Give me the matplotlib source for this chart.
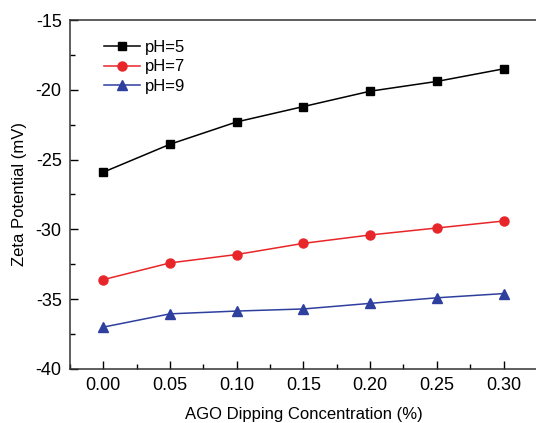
import matplotlib
matplotlib.use('Agg')
from matplotlib import pyplot as plt
from matplotlib.ticker import MultipleLocator

plt.rcParams['font.family'] = ['Liberation Sans', 'DejaVu Sans']

conc = [0.00, 0.05, 0.10, 0.15, 0.20, 0.25, 0.30]
ph5 = [-25.9, -23.9, -22.3, -21.2, -20.1, -19.4, -18.5]
ph7 = [-33.6, -32.4, -31.8, -31.0, -30.4, -29.9, -29.4]
ph9 = [-37.0, -36.05, -35.85, -35.7, -35.3, -34.9, -34.6]

fig = plt.figure(figsize=(5.36, 4.23), dpi=100)
ax = fig.add_axes([0.1306, 0.1277, 0.871, 0.825])

ax.plot(conc, ph5, color='black', marker='s', markersize=6, linewidth=1.1, label='pH=5')
ax.plot(conc, ph7, color='#e8262a', marker='o', markersize=6.5, linewidth=1.1, label='pH=7')
ax.plot(conc, ph9, color='#2e3f9e', marker='^', markersize=7, linewidth=1.1, label='pH=9')

ax.set_xlim(-0.025, 0.325)
ax.set_ylim(-40, -15)
ax.xaxis.set_major_locator(MultipleLocator(0.05))
ax.xaxis.set_minor_locator(MultipleLocator(0.025))
ax.yaxis.set_major_locator(MultipleLocator(5))
ax.yaxis.set_minor_locator(MultipleLocator(2.5))
ax.xaxis.set_major_formatter(matplotlib.ticker.FormatStrFormatter('%.2f'))
ax.yaxis.set_major_formatter(matplotlib.ticker.FuncFormatter(lambda v, p: '%d' % v))

ax.tick_params(which='major', direction='in', length=6, width=1, labelsize=13, pad=6)
ax.tick_params(which='minor', direction='in', length=3.5, width=1)
for s in ax.spines.values():
	s.set_color('#333333')
	s.set_linewidth(1.1)

ax.set_xlabel('AGO Dipping Concentration (%)', fontsize=12, labelpad=9)
ax.set_ylabel('Zeta Potential (mV)', fontsize=12, labelpad=6)

ax.legend(loc='upper left', frameon=False, fontsize=12, handlelength=2.2,
	handletextpad=0.3, labelspacing=0.25, bbox_to_anchor=(0.04, 0.985))

fig.savefig('out.png', dpi=100)
